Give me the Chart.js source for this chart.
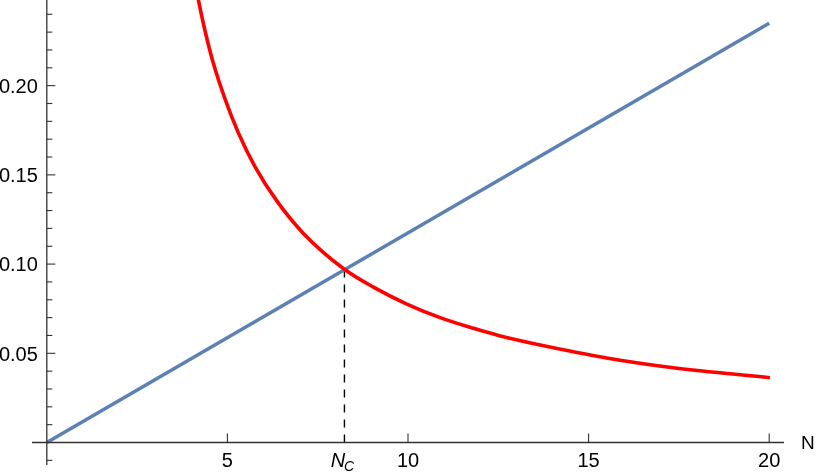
<!DOCTYPE html>
<html>
<head>
<meta charset="utf-8">
<script src="https://cdn.jsdelivr.net/npm/chart.js@4.4.1/dist/chart.umd.min.js"></script>
<style>
  html, body { margin: 0; padding: 0; background: #ffffff; }
  #wrap { width: 817px; height: 472px; position: relative; }
</style>
</head>
<body>
<div id="wrap"><canvas id="c"></canvas></div>
<script>
// ---- data ----
const blueN = [0, 20];
const blueY = [0, 0.235];

const redN = [4.10, 4.197, 4.383, 4.612, 4.936, 5.305, 5.767, 6.368, 7.104, 8.239, 9.042, 9.967, 10.889, 11.81, 12.53, 13.66, 15.50, 17.35, 20.02];
const redY = [0.259, 0.248, 0.2305, 0.2125, 0.1924, 0.1735, 0.1545, 0.1354, 0.1172, 0.0971, 0.0871, 0.0776, 0.0700, 0.0640, 0.0599, 0.0547, 0.0474, 0.0419, 0.0363];

const ncN = [8.24, 8.24];
const ncY = [0, 0.0971];

const xTicks = [5, 10, 15, 20];
const xTickLabels = ['5', '10', '15', '20'];
const yTicks = [0.05, 0.10, 0.15, 0.20];
const yTickLabels = ['0.05', '0.10', '0.15', '0.20'];
const yMinorTicks = [-0.01, 0.01, 0.02, 0.03, 0.04, 0.06, 0.07, 0.08, 0.09, 0.11, 0.12, 0.13, 0.14, 0.16, 0.17, 0.18, 0.19, 0.21, 0.22, 0.23, 0.24];
const xAxisLabel = 'N';
const ncLabel = ['N', 'C'];

const pts = (xs, ys) => xs.map((x, i) => ({ x: x, y: ys[i] }));

const FONT = '"Liberation Sans", Arial, "DejaVu Sans", sans-serif';
const AXIS = '#333333';

const axesPlugin = {
  id: 'mmaAxes',
  afterDatasetsDraw(chart) {
    const ctx = chart.ctx;
    const xs = chart.scales.x, ys = chart.scales.y;
    const area = chart.chartArea;
    const x0 = xs.getPixelForValue(0);
    const y0 = ys.getPixelForValue(0);
    ctx.save();
    ctx.strokeStyle = AXIS;
    ctx.lineWidth = 1.3;
    ctx.beginPath();
    ctx.moveTo(area.left, y0);
    ctx.lineTo(area.right, y0);
    ctx.stroke();
    ctx.beginPath();
    ctx.moveTo(x0, area.top);
    ctx.lineTo(x0, area.bottom);
    ctx.stroke();
    ctx.lineWidth = 1.1;
    xTicks.forEach(v => {
      const p = xs.getPixelForValue(v);
      ctx.beginPath();
      ctx.moveTo(p, y0);
      ctx.lineTo(p, y0 - 9);
      ctx.stroke();
    });
    yTicks.forEach(v => {
      const p = ys.getPixelForValue(v);
      ctx.beginPath();
      ctx.moveTo(x0, p);
      ctx.lineTo(x0 + 8.5, p);
      ctx.stroke();
    });
    yMinorTicks.forEach(v => {
      const p = ys.getPixelForValue(v);
      ctx.beginPath();
      ctx.moveTo(x0, p);
      ctx.lineTo(x0 + 5.5, p);
      ctx.stroke();
    });
    ctx.fillStyle = '#000000';
    ctx.font = '20px ' + FONT;
    ctx.textBaseline = 'alphabetic';
    ctx.textAlign = 'center';
    xTicks.forEach((v, i) => {
      ctx.fillText(xTickLabels[i], xs.getPixelForValue(v), y0 + 24.2);
    });
    ctx.textAlign = 'right';
    yTicks.forEach((v, i) => {
      ctx.fillText(yTickLabels[i], x0 - 9, ys.getPixelForValue(v) + 7.2);
    });
    const ncx = xs.getPixelForValue(ncN[0]);
    ctx.font = 'italic 20px ' + FONT;
    const wN = ctx.measureText(ncLabel[0]).width;
    ctx.font = 'italic 14px ' + FONT;
    const wC = ctx.measureText(ncLabel[1]).width;
    const startX = ncx - 1.5 - (wN + wC) / 2;
    ctx.textAlign = 'left';
    ctx.font = 'italic 20px ' + FONT;
    ctx.fillText(ncLabel[0], startX, y0 + 24.2);
    ctx.font = 'italic 14px ' + FONT;
    ctx.fillText(ncLabel[1], startX + wN - 1, y0 + 28.5);
    ctx.font = '19px ' + FONT;
    ctx.textAlign = 'left';
    ctx.fillText(xAxisLabel, area.right + 17, y0 + 6.5);
    ctx.restore();
  }
};

new Chart(document.getElementById('c'), {
  type: 'scatter',
  data: {
    datasets: [
      {
        data: pts(ncN, ncY),
        showLine: true,
        borderColor: '#000000',
        borderWidth: 1.4,
        borderDash: [8, 7],
        pointRadius: 0,
        order: 3
      },
      {
        data: pts(blueN, blueY),
        showLine: true,
        borderColor: '#5E81B5',
        borderWidth: 3.6,
        pointRadius: 0,
        order: 2
      },
      {
        data: pts(redN, redY),
        showLine: true,
        borderColor: '#FF0000',
        borderWidth: 3.6,
        pointRadius: 0,
        cubicInterpolationMode: 'monotone',
        order: 1
      }
    ]
  },
  options: {
    responsive: true,
    maintainAspectRatio: false,
    animation: false,
    layout: { padding: { left: 32, right: 33, top: 0, bottom: 7 } },
    plugins: { legend: { display: false }, tooltip: { enabled: false } },
    scales: {
      x: { type: 'linear', min: -0.41, max: 20.41, display: false },
      y: { type: 'linear', min: -0.0126, max: 0.248, display: false }
    }
  },
  plugins: [axesPlugin]
});
</script>
</body>
</html>
